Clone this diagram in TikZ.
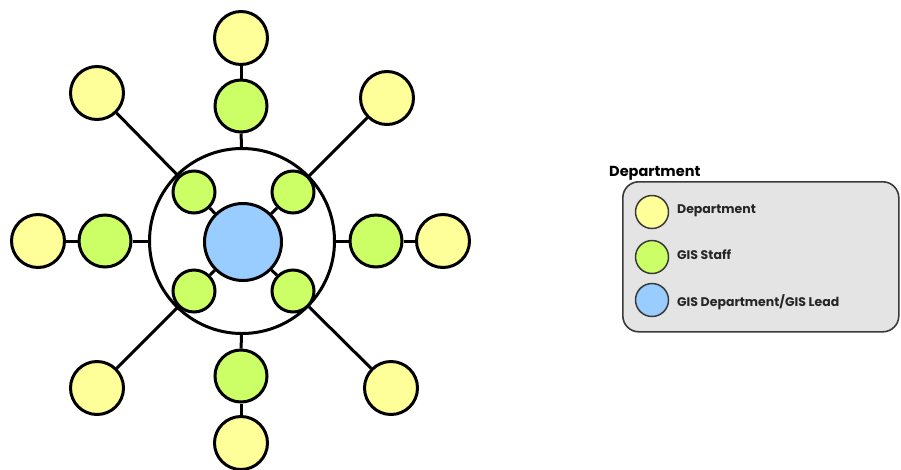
\documentclass[tikz,border=0pt]{standalone}
\usepackage{fontspec}
\setmainfont{Poppins}
\definecolor{dyellow}{HTML}{FFFF99}
\definecolor{gstaff}{HTML}{CCFF66}
\definecolor{glead}{HTML}{99CCFF}
\definecolor{legfill}{HTML}{E4E4E4}
\definecolor{legline}{HTML}{3A3A3A}
\tikzset{
  base/.style={circle,draw=black,line width=3pt,inner sep=0pt},
  dept/.style={base,fill=dyellow,minimum size=53pt},
  staff/.style={base,fill=gstaff,minimum size=52pt},
  istaff/.style={base,fill=gstaff,minimum size=42pt},
  lead/.style={base,fill=glead,minimum size=77pt},
  ring/.style={base,fill=white,minimum size=185pt},
  conn/.style={line width=3pt,black},
  legcirc/.style={circle,draw=legline,line width=1.5pt,inner sep=0pt,minimum size=33pt},
  legtext/.style={anchor=west,font=\bfseries\fontsize{12.5}{14}\selectfont,inner sep=0pt,text=black!85},
}
\begin{document}
\begin{tikzpicture}[x=1pt,y=-1pt]
\useasboundingbox (0,0) rectangle (901,469);
% centre
\node[ring] (ring) at (242,241) {};
\node[lead] (lead) at (243,242) {};
\node[istaff] (gtl) at (194,192) {};
\node[istaff] (gtr) at (293,192) {};
\node[istaff] (gbl) at (194,291) {};
\node[istaff] (gbr) at (293,291) {};
% axis staff
\node[staff] (gt) at (241,106) {};
\node[staff] (gb) at (241,376) {};
\node[staff] (gl) at (105,241) {};
\node[staff] (gr) at (376,241) {};
% departments
\node[dept] (yt) at (241,38) {};
\node[dept] (yb) at (241,443) {};
\node[dept] (yl) at (38,241) {};
\node[dept] (yr) at (443,241) {};
\node[dept] (ytl) at (97,93) {};
\node[dept] (ytr) at (387,98) {};
\node[dept] (ybl) at (97,388) {};
\node[dept] (ybr) at (391,388) {};
% connectors
\draw[conn] (yt) -- (gt);
\draw[conn] (gt) -- (ring);
\draw[conn] (yb) -- (gb);
\draw[conn] (gb) -- (ring);
\draw[conn] (yl) -- (gl);
\draw[conn] (gl) -- (ring);
\draw[conn] (yr) -- (gr);
\draw[conn] (gr) -- (ring);
\draw[conn] (ytl) -- (gtl);
\draw[conn] (ytr) -- (gtr);
\draw[conn] (ybl) -- (gbl);
\draw[conn] (ybr) -- (gbr);
\draw[conn] (gtl) -- (lead);
\draw[conn] (gtr) -- (lead);
\draw[conn] (gbl) -- (lead);
\draw[conn] (gbr) -- (lead);
% legend
\node[anchor=base west,font=\bfseries\fontsize{14.5}{16}\selectfont,inner sep=0pt] (legtitle) at (609,176) {Department};
\node[rectangle,rounded corners=16pt,draw=legline,fill=legfill,line width=1.6pt,minimum width=276pt,minimum height=150pt,anchor=north west] (legbox) at (622,181) {};
\node[legcirc,fill=dyellow] (lc1) at (652,212) {};
\node[legcirc,fill=gstaff] (lc2) at (652,257) {};
\node[legcirc,fill=glead] (lc3) at (652,300) {};
\node[legtext] (lt1) at (677,211) {Department};
\node[legtext] (lt2) at (677,255) {GIS Staff};
\node[legtext] (lt3) at (677,302) {GIS Department/GIS Lead};
\end{tikzpicture}
\end{document}
